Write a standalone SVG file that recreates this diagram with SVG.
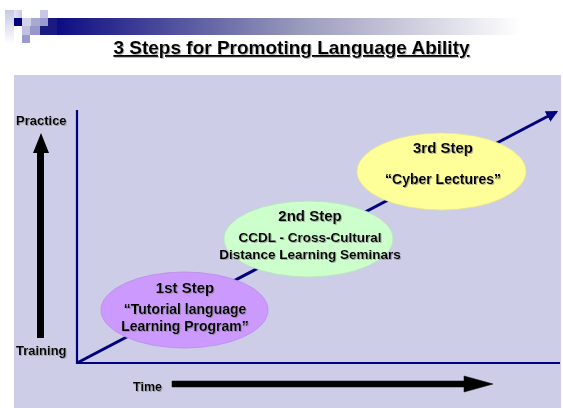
<svg xmlns="http://www.w3.org/2000/svg" width="563" height="408" viewBox="0 0 563 408">
<defs>
<linearGradient id="bar" x1="0" y1="0" x2="1" y2="0">
<stop offset="0" stop-color="#000080"/>
<stop offset="0.08" stop-color="#1a1a88"/>
<stop offset="0.5" stop-color="#9a9abc"/>
<stop offset="0.92" stop-color="#ffffff"/>
<stop offset="1" stop-color="#ffffff"/>
</linearGradient>
<linearGradient id="fadev" x1="0" y1="0" x2="0" y2="1">
<stop offset="0" stop-color="#c8c8e4"/>
<stop offset="1" stop-color="#ffffff"/>
</linearGradient>
<linearGradient id="fadeh" x1="0" y1="0" x2="1" y2="0">
<stop offset="0" stop-color="#e6e6f3"/>
<stop offset="1" stop-color="#c8c8e4"/>
</linearGradient>
<filter id="sh" x="-10%" y="-30%" width="120%" height="160%">
<feDropShadow dx="1" dy="1" stdDeviation="0.4" flood-color="#777777" flood-opacity="0.55"/>
</filter>
<marker id="navyhead" viewBox="0 0 10 10" refX="8" refY="5" markerWidth="4" markerHeight="4" orient="auto" markerUnits="strokeWidth">
<path d="M0,0 L10,5 L0,10 z" fill="#000080"/>
</marker>
</defs>
<style>
.t{font-family:"Liberation Sans",Arial,sans-serif;font-weight:bold;fill:#000000;}
.axis{stroke:#000080;stroke-width:2.2;fill:none;}
.node text{text-anchor:middle;}
</style>
<rect x="0" y="0" width="563" height="408" fill="#ffffff"/>
<g id="header">
<rect x="37" y="18" width="526" height="17" fill="url(#bar)"/>
<rect x="5" y="10" width="9" height="34" fill="url(#fadev)"/>
<rect x="14" y="10" width="8" height="8" fill="url(#fadeh)"/>
<rect x="14" y="18" width="8" height="8" fill="#000080"/>
<rect x="22" y="18" width="9" height="8" fill="#d2d2ea"/>
<rect x="31" y="18" width="9" height="8" fill="#a8a8d0"/>
<rect x="40" y="10" width="8" height="8" fill="#c8c8e4"/>
<rect x="40" y="18" width="8" height="8" fill="#9a9acc"/>
<rect x="48" y="18" width="9" height="8" fill="#1a1a80"/>
<rect x="22" y="26" width="8" height="9" fill="#c0c0e0"/>
<rect x="30" y="26" width="10" height="9" fill="#9898c8"/>
<rect x="40" y="26" width="17" height="9" fill="#1a1a80"/>
<rect x="22" y="35" width="8" height="8" fill="#9a9acc"/>
</g>
<text class="t" x="291.5" y="54" font-size="19" text-anchor="middle" text-decoration="underline" filter="url(#sh)">3 Steps for Promoting Language Ability</text>
<rect x="14" y="75" width="547" height="333" fill="#cdcde8"/>
<g id="connectors">
<line class="axis" x1="77" y1="110" x2="77" y2="364"/>
<line class="axis" x1="76" y1="363" x2="560" y2="363"/>
<line x1="77" y1="363" x2="556" y2="112" stroke="#000080" stroke-width="3" marker-end="url(#navyhead)"/>
<path d="M37,338 L37,153 L33,153 L41,133 L49,153 L44,153 L44,338 z" fill="#000000"/>
<path d="M172,381 L464,381 L464,376 L493,384 L464,392 L464,387 L172,387 z" fill="#000000" stroke="#000000" stroke-width="0.5" stroke-linejoin="round"/>
</g>
<text class="t" x="16" y="125" font-size="13" filter="url(#sh)">Practice</text>
<text class="t" x="16" y="355" font-size="13" filter="url(#sh)">Training</text>
<text class="t" x="133" y="391" font-size="12.5" filter="url(#sh)">Time</text>
<g id="step1" class="node">
<ellipse cx="184.5" cy="310" rx="83.5" ry="38" fill="#cc99ff" stroke="#b98ae8" stroke-width="0.8"/>
<text class="t" x="185" y="293" font-size="15" filter="url(#sh)">1st Step</text>
<text class="t" x="185" y="314" font-size="14" filter="url(#sh)">“Tutorial language</text>
<text class="t" x="185" y="331" font-size="14" filter="url(#sh)">Learning Program”</text>
</g>
<g id="step2" class="node">
<ellipse cx="308.5" cy="239" rx="84.5" ry="38" fill="#ccffcc" stroke="#b8e6b8" stroke-width="0.8"/>
<text class="t" x="310" y="221" font-size="15" filter="url(#sh)">2nd Step</text>
<text class="t" x="310" y="242" font-size="13.5" filter="url(#sh)">CCDL - Cross-Cultural</text>
<text class="t" x="310" y="259" font-size="13.5" filter="url(#sh)">Distance Learning Seminars</text>
</g>
<g id="step3" class="node">
<ellipse cx="441.5" cy="171.5" rx="84.5" ry="38.5" fill="#ffff99" stroke="#e6e68a" stroke-width="0.8"/>
<text class="t" x="443" y="153" font-size="15" filter="url(#sh)">3rd Step</text>
<text class="t" x="443" y="184" font-size="14" filter="url(#sh)">“Cyber Lectures”</text>
</g>
</svg>
